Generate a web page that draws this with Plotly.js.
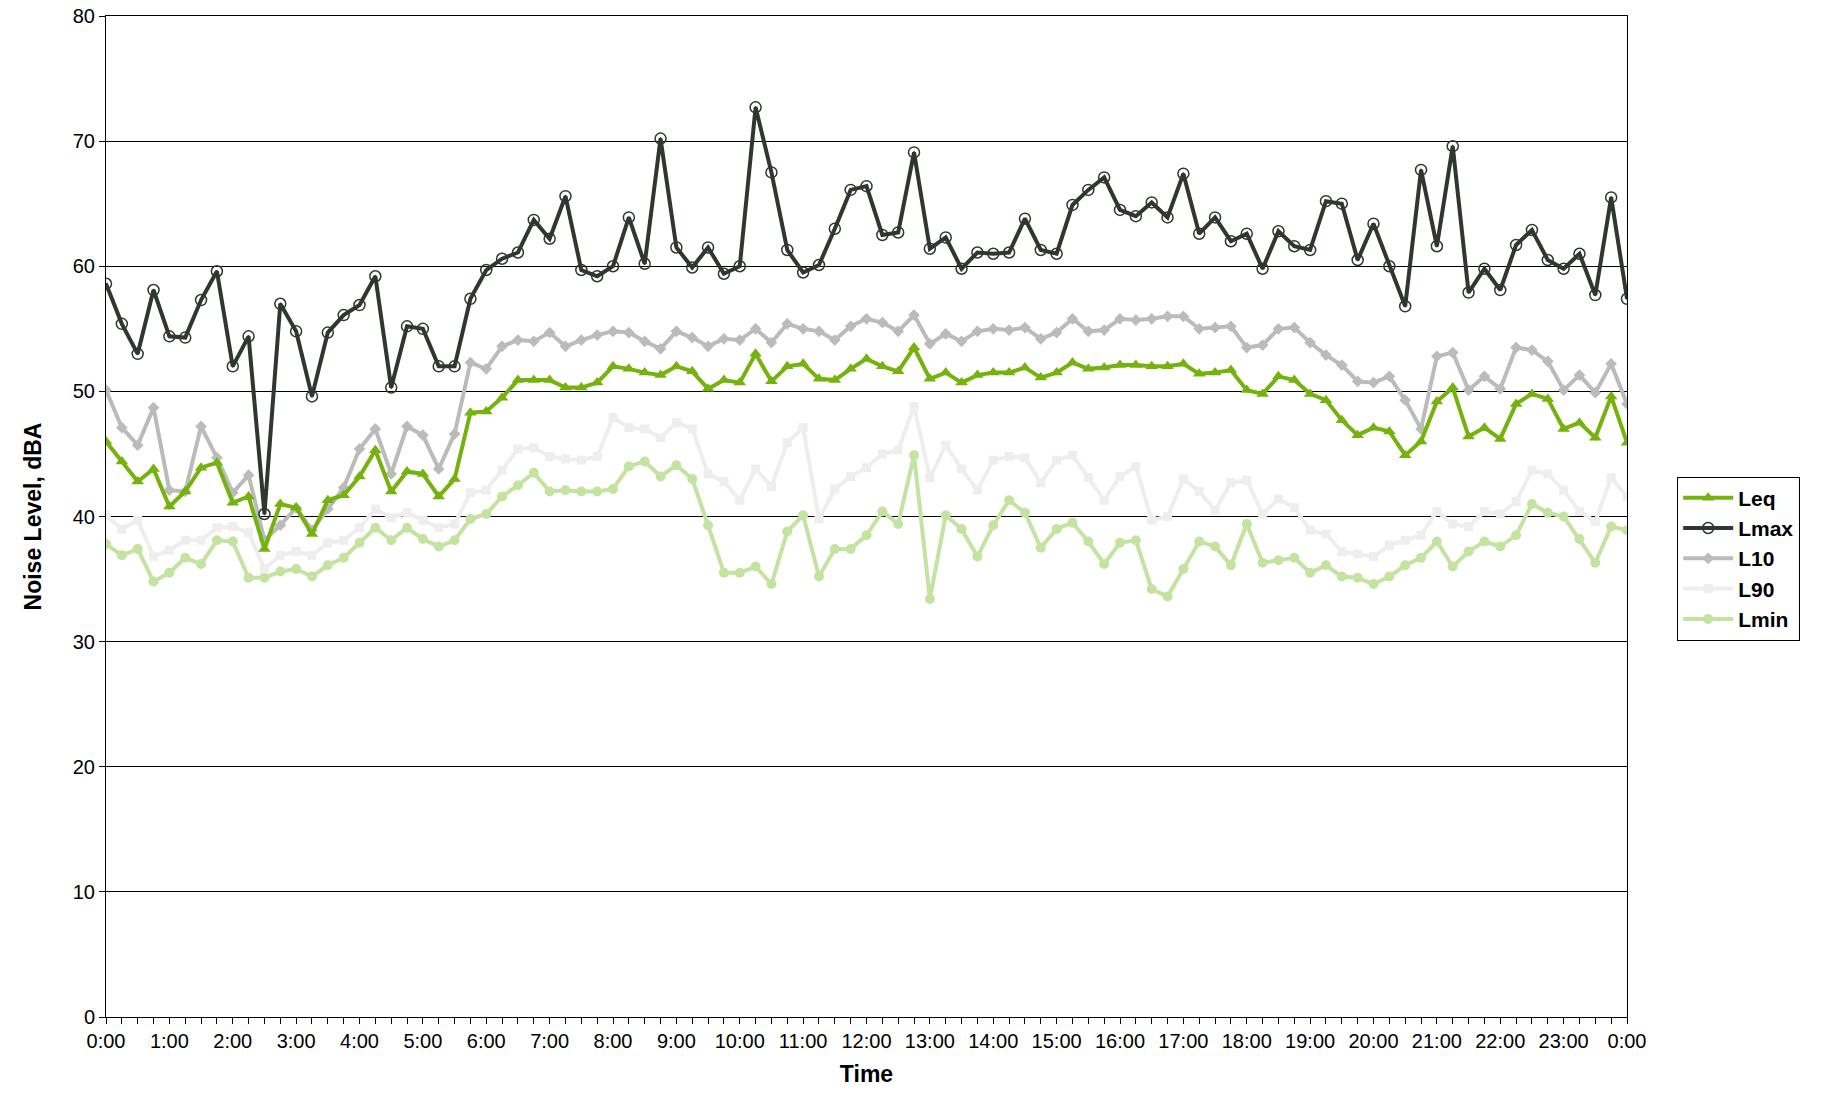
<!DOCTYPE html>
<html>
<head>
<meta charset="utf-8">
<script src="https://cdn.plot.ly/plotly-3.0.1.min.js"></script>
<style>body{margin:0;background:#fff}#chart{width:1821px;height:1097px}</style>
</head>
<body>
<div id="chart"></div>
<script>
// 15-minute samples, 0:00 to 24:00 (97 points)
var hourLabels = ['0:00','1:00','2:00','3:00','4:00','5:00','6:00','7:00','8:00','9:00','10:00','11:00','12:00',
    '13:00','14:00','15:00','16:00','17:00','18:00','19:00','20:00','21:00','22:00','23:00','0:00'];

var leq = [46.0,44.4,42.8,43.8,40.8,42.0,43.9,44.3,41.1,41.6,37.4,41.0,40.7,38.6,41.3,41.7,43.2,45.3,42.0,43.6,
    43.4,41.6,43.0,48.3,48.4,49.5,50.9,50.9,50.9,50.3,50.3,50.7,52.0,51.8,51.5,51.3,52.0,51.6,50.2,50.9,
    50.7,53.0,50.8,52.0,52.2,51.0,50.9,51.8,52.6,52.0,51.6,53.5,51.0,51.5,50.7,51.3,51.5,51.5,51.9,51.1,
    51.5,52.3,51.8,51.9,52.1,52.1,52.0,52.0,52.2,51.4,51.5,51.7,50.1,49.8,51.2,50.9,49.8,49.3,47.7,46.5,
    47.1,46.8,44.9,46.0,49.2,50.3,46.4,47.1,46.2,49.0,49.8,49.4,47.0,47.5,46.3,49.6,45.9];

var lmax = [58.6,55.4,53.0,58.1,54.4,54.3,57.3,59.6,52.0,54.4,40.2,57.0,54.8,49.6,54.7,56.1,56.9,59.2,50.3,55.2,
    55.0,52.0,52.0,57.4,59.7,60.6,61.1,63.7,62.2,65.6,59.7,59.2,60.0,63.9,60.2,70.2,61.5,59.9,61.5,59.4,
    60.0,72.7,67.5,61.3,59.5,60.1,63.0,66.1,66.4,62.5,62.7,69.1,61.4,62.3,59.8,61.1,61.0,61.1,63.8,61.3,
    61.0,64.9,66.1,67.1,64.5,64.0,65.1,63.9,67.4,62.6,63.9,62.0,62.6,59.8,62.8,61.6,61.3,65.2,65.0,60.5,
    63.4,60.0,56.8,67.7,61.6,69.6,57.9,59.8,58.1,61.7,62.9,60.5,59.8,61.0,57.7,65.5,57.4];

var l10 = [50.1,47.1,45.7,48.7,42.1,42.0,47.2,44.7,41.9,43.3,38.1,39.3,40.7,38.9,40.6,42.3,45.4,47.0,43.4,47.2,
    46.5,43.8,46.6,52.3,51.8,53.6,54.1,54.0,54.7,53.6,54.1,54.5,54.8,54.7,54.0,53.4,54.8,54.3,53.6,54.2,
    54.1,55.0,53.9,55.4,55.0,54.8,54.1,55.2,55.8,55.5,54.8,56.1,53.8,54.6,54.0,54.8,55.0,54.9,55.1,54.2,
    54.7,55.8,54.8,54.9,55.8,55.7,55.8,56.0,56.0,55.0,55.1,55.2,53.5,53.7,55.0,55.1,53.9,52.9,52.1,50.8,
    50.7,51.2,49.3,47.0,52.8,53.1,50.1,51.2,50.2,53.5,53.3,52.4,50.1,51.3,49.9,52.2,49.0];

var l90 = [40.1,39.0,39.7,36.8,37.3,38.1,38.1,39.1,39.2,38.7,35.8,36.9,37.2,36.9,37.9,38.1,39.1,40.6,39.9,40.3,
    39.7,39.1,39.4,41.9,42.1,43.7,45.4,45.5,44.8,44.6,44.5,44.8,47.9,47.1,47.0,46.3,47.5,47.0,43.4,42.8,
    41.3,43.8,42.4,45.9,47.1,39.8,42.2,43.2,43.9,45.0,45.3,48.8,43.1,45.7,43.8,42.1,44.5,44.8,44.7,42.7,
    44.5,44.9,43.1,41.3,43.2,44.0,39.7,40.0,43.0,42.0,40.5,42.7,42.9,40.2,41.4,40.7,38.9,38.6,37.2,37.0,
    36.8,37.7,38.1,38.5,40.4,39.4,39.2,40.4,40.2,41.2,43.7,43.4,42.1,40.4,39.6,43.1,41.6];

var lmin = [37.8,36.9,37.4,34.8,35.5,36.7,36.2,38.1,38.0,35.1,35.1,35.6,35.8,35.2,36.1,36.7,37.9,39.1,38.1,39.1,
    38.2,37.6,38.1,39.8,40.2,41.6,42.5,43.5,42.0,42.1,42.0,42.0,42.2,44.0,44.4,43.2,44.1,43.0,39.3,35.5,
    35.5,36.0,34.6,38.8,40.1,35.2,37.4,37.4,38.5,40.4,39.4,44.9,33.4,40.1,39.0,36.8,39.3,41.3,40.3,37.5,
    39.0,39.5,38.0,36.2,37.9,38.1,34.2,33.6,35.8,38.0,37.6,36.1,39.4,36.3,36.5,36.7,35.5,36.1,35.2,35.1,
    34.6,35.2,36.1,36.7,38.0,36.0,37.2,38.0,37.6,38.5,41.0,40.3,40.0,38.2,36.3,39.2,38.9];

var xs = leq.map(function (v, i) { return i; });
var tickPos = hourLabels.map(function (t, i) { return i * 4; });

function series(name, y, color, symbol, size, rank, extra) {
    var t = {
        x: xs, y: y, name: name, type: 'scatter', mode: 'lines+markers',
        line: { color: color, width: 4 },
        marker: { color: color, symbol: symbol, size: size },
        legendrank: rank
    };
    if (extra) t.marker = Object.assign(t.marker, extra);
    return t;
}

var data = [
    series('Lmin', lmin, '#c4e3a1', 'circle', 10, 5),
    series('L90', l90, '#eeeeee', 'square', 9, 4),
    series('L10', l10, '#b9bcb9', 'diamond', 9, 3),
    series('Lmax', lmax, '#2f382f', 'circle-open-dot', 11, 2, { line: { width: 1.5 } }),
    series('Leq', leq, '#76b20e', 'triangle-up', 11, 1)
];

var layout = {
    width: 1821, height: 1097,
    margin: { l: 106, r: 194, t: 16, b: 80 },
    paper_bgcolor: '#fff', plot_bgcolor: '#fff',
    font: { family: 'Liberation Sans, Arial, sans-serif', size: 20, color: '#000' },
    showlegend: true,
    legend: {
        x: 1.033, y: 0.458, xanchor: 'left', yanchor: 'middle',
        bordercolor: '#000', borderwidth: 1,
        font: { size: 21, weight: 'bold' }, tracegroupgap: 0,
        itemwidth: 50
    },
    xaxis: {
        range: [0, 96], tickmode: 'array', tickvals: tickPos, ticktext: hourLabels,
        showgrid: false, zeroline: false, showline: true, mirror: true, linecolor: '#000', linewidth: 1,
        ticks: 'outside', ticklen: 6, tickcolor: '#000',
        minor: { dtick: 1, ticks: 'outside', ticklen: 6, tickcolor: '#000' },
        title: { text: 'Time', font: { size: 23, weight: 'bold' }, standoff: 14 }
    },
    yaxis: {
        range: [0, 80], dtick: 10, showgrid: true, gridcolor: '#000', gridwidth: 1,
        zeroline: false, showline: true, mirror: true, linecolor: '#000', linewidth: 1,
        ticks: 'outside', ticklen: 6, tickcolor: '#000',
        title: { text: 'Noise Level, dBA', font: { size: 23, weight: 'bold' }, standoff: 24 }
    }
};

Plotly.newPlot('chart', data, layout, { displayModeBar: false });
</script>
</body>
</html>
